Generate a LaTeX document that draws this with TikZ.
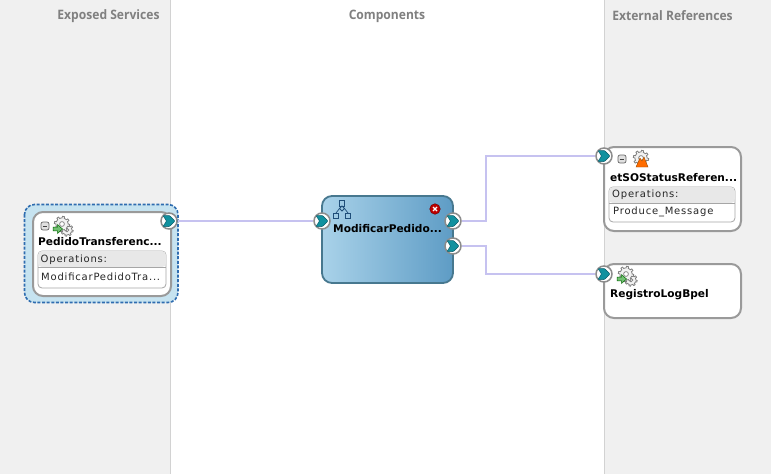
\documentclass[tikz,border=0pt]{standalone}
\usepackage{fontspec}
\setmainfont{DejaVu Sans}
\newfontfamily\headfont[FakeStretch=0.93]{Open Sans}
\usepackage{tikz}
\usetikzlibrary{positioning,calc}
\usepackage{xcolor}
\definecolor{panelgray}{HTML}{F0F0F0}
\definecolor{panelline}{HTML}{D2D2D2}
\definecolor{wirecol}{HTML}{C6C2F0}
\definecolor{portteal}{HTML}{11919F}
\definecolor{portdark}{HTML}{0B5D6B}
\definecolor{boxline}{HTML}{9A9A9A}
\definecolor{selfill}{HTML}{C6E3F0}
\definecolor{seldash}{HTML}{2F6DB0}
\definecolor{compline}{HTML}{47788F}
\definecolor{compleft}{HTML}{A9D2E9}
\definecolor{compright}{HTML}{5E9CC5}
\definecolor{iconblue}{HTML}{1F4E79}
\tikzset{
    headtext/.style={font=\headfont\bfseries\fontsize{13}{15}\selectfont, text=black!50},
    titletext/.style={font=\bfseries\fontsize{10.6}{13}\selectfont, anchor=west, inner sep=0pt},
    optext/.style={font=\addfontfeature{LetterSpace=8}\fontsize{10}{12}\selectfont, anchor=west, inner sep=0pt, text=black!85},
    refbox/.style={draw=boxline, line width=2, rounded corners=10, fill=white},
    optable/.style={draw=black!35, line width=0.8, rounded corners=4, fill=white},
    wire/.style={draw=wirecol, line width=2},
    portnode/.style={circle, draw=black!45, line width=1.5, fill=white, minimum size=16, inner sep=0pt}
}
% port with its chevron
\newcommand{\portat}[3]{
    \node[portnode] (#1) at (#2, #3) {};
    \fill[portteal, draw=portdark, line width=0.5, rounded corners=0.8, shift={(#2, #3)}] (-6,-5.5) -- (0.5,-5.5) -- (6,0) -- (0.5,5.5) -- (-6,5.5) -- (-2.5,0) -- cycle;
}
% gear icon
\newcommand{\gearat}[3]{
    \begin{scope}[shift={(#2, #3)}, scale=#1]
        \draw[black!50, fill=black!5, line width=0.8] plot[domain=0:360, samples=97] (\x:{6+1.7*(sin(8*\x)>0)}) -- cycle;
        \draw[black!50, fill=white, line width=0.7] (0,0) circle (2.4);
    \end{scope}
}
% gear with the green arrow
\newcommand{\servicegear}[2]{
    \gearat{0.8}{#1+5}{#2+6}
    \gearat{1}{#1}{#2}
    \fill[green!55!black!55, draw=green!40!black, line width=0.5, shift={(#1-4, #2+5)}] (-5,-1.8) -- (-0.5,-1.8) -- (-0.5,-4.5) -- (4.5,0) -- (-0.5,4.5) -- (-0.5,1.8) -- (-5,1.8) -- cycle;
}
% collapse box
\newcommand{\minusat}[2]{
    \draw[black!60, fill=black!12, line width=0.7, rounded corners=2] (#1-4, #2-4) rectangle (#1+4, #2+4);
    \draw[black!75, line width=0.9] (#1-2.3, #2) -- (#1+2.3, #2);
}
\begin{document}
\begin{tikzpicture}[x=1pt, y=-1pt]
    \useasboundingbox (0,0) rectangle (771,474);
    \fill[white] (0,0) rectangle (771,474);

    % Panels
    \fill[panelgray] (0,0) rectangle (170,474);
    \fill[panelgray] (604,0) rectangle (771,474);
    \draw[panelline] (170.5,0) -- (170.5,474);
    \draw[panelline] (604.5,0) -- (604.5,474);
    \node[headtext] (exposedhead) at (108.5, 16) {Exposed Services};
    \node[headtext] (comphead) at (387, 16) {Components};
    \node[headtext] (exthead) at (672.5, 16) {External References};

    % Exposed service
    \draw[seldash, fill=selfill, line width=1.6, dash pattern=on 3pt off 1.6pt, rounded corners=10] (24.5,204.5) rectangle (178,302.5);
    \draw[refbox] (33,212) rectangle (171,296);
    \minusat{45}{226}
    \servicegear{62}{224}
    \node[titletext] (pedidotitle) at (38, 242) {PedidoTransferenc...};
    \draw[optable] (38,251) rectangle (166,288);
    \begin{scope}
        \clip[rounded corners=4] (38,251) rectangle (166,267);
        \fill[black!9] (38,251) rectangle (166,267);
    \end{scope}
    \draw[black!35, line width=0.8] (38,267) -- (166,267);
    \node[optext] (pedidoops) at (40.5, 259.5) {Operations:};
    \node[optext] (pedidoop) at (41, 276.5) {ModificarPedidoTra...};

    % Component
    \draw[compline, line width=1.8, rounded corners=10, left color=compleft, right color=compright] (322,196) rectangle (453,283);
    \node[titletext] (modtitle) at (333, 229) {ModificarPedido...};
    % hierarchy icon
    \draw[iconblue, line width=0.8] (339.5,200.5) rectangle (344.5,206);
    \draw[iconblue, line width=0.8] (333.5,213) rectangle (338.5,218);
    \draw[iconblue, line width=0.8] (345.5,213) rectangle (350.5,218);
    \draw[iconblue, line width=0.8] (339.5,208.5) -- (342,206) -- (344.5,208.5) -- (342,211) -- cycle;
    \draw[iconblue, line width=0.7] (336,213) -- (339.5,208.5) (348,213) -- (344.5,208.5);
    % error icon
    \node[circle, fill=red!75!black, draw=red!45!black, line width=0.5, minimum size=10.5, inner sep=0pt] (erroricon) at (435, 209) {};
    \draw[white, line width=1.3] (433,207) -- (437,211) (437,207) -- (433,211);

    % References
    \draw[refbox] (604,147) rectangle (741,231);
    \minusat{622}{159}
    \gearat{1}{641}{158}
    \fill[orange!85!red, draw=orange!60!black, line width=0.4] (636,167) -- (640,158) -- (642,161) -- (644,157) -- (648,167) -- cycle;
    \node[titletext] (etsotitle) at (610, 178) {etSOStatusReferen...};
    \draw[optable] (609,187) rectangle (735,222);
    \begin{scope}
        \clip[rounded corners=4] (609,187) rectangle (735,203);
        \fill[black!9] (609,187) rectangle (735,203);
    \end{scope}
    \draw[black!35, line width=0.8] (609,203) -- (735,203);
    \node[optext] (etsoops) at (612, 195) {Operations:};
    \node[optext] (etsoop) at (613, 211.5) {Produce\_Message};

    \draw[refbox] (604,264) rectangle (741,318);
    \servicegear{626}{274}
    \node[titletext] (logtitle) at (610, 295) {RegistroLogBpel};

    % Ports
    \portat{pedidoout}{169}{221}
    \portat{modin}{322}{221}
    \portat{modouta}{453}{221}
    \portat{modoutb}{453}{246}
    \portat{etsoin}{604}{156}
    \portat{login}{604}{274}

    % Wires
    \draw[wire] (pedidoout) -- (modin);
    \draw[wire] (modouta) -- (486,221) -- (486,156) -- (etsoin);
    \draw[wire] (modoutb) -- (486,246) -- (486,274) -- (login);
\end{tikzpicture}
\end{document}
